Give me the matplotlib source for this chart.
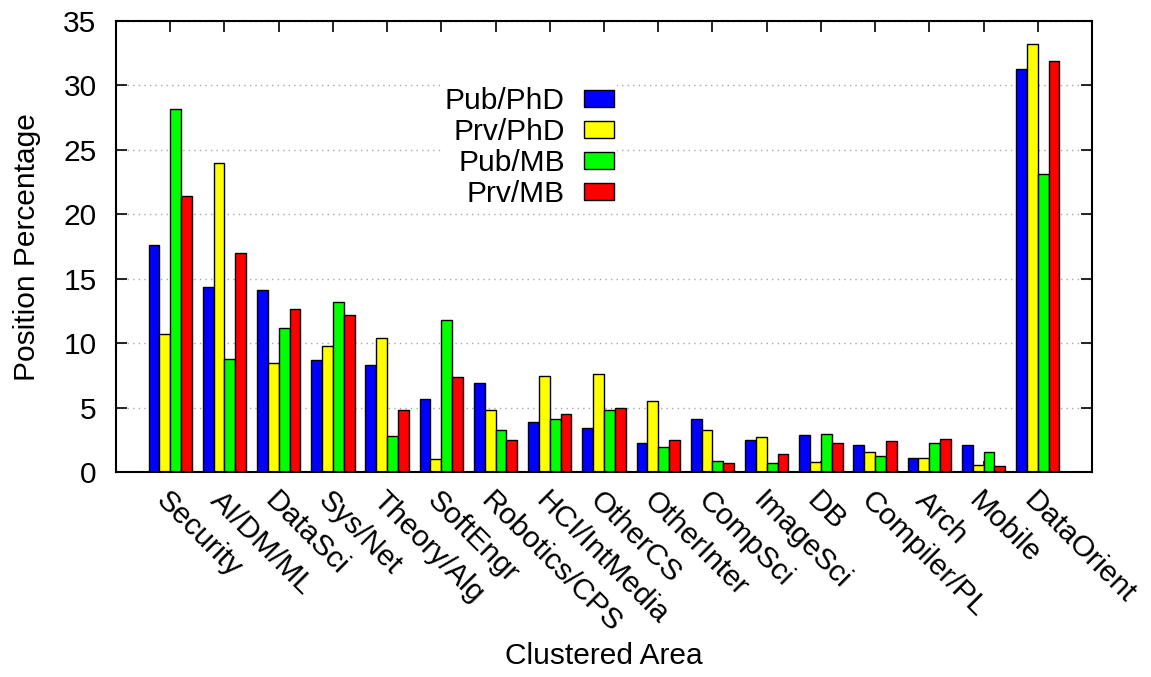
import matplotlib
matplotlib.use('Agg')
import matplotlib.pyplot as plt
import numpy as np

# Share of positions per clustered research area
areas = ['Security', 'AI/DM/ML', 'DataSci', 'Sys/Net', 'Theory/Alg', 'SoftEngr',
         'Robotics/CPS', 'HCI/IntMedia', 'OtherCS', 'OtherInter', 'CompSci',
         'ImageSci', 'DB', 'Compiler/PL', 'Arch', 'Mobile', 'DataOrient']
pub_phd = [17.6, 14.4, 14.1, 8.7, 8.3, 5.7, 6.9, 3.9, 3.4, 2.3, 4.1, 2.5, 2.9, 2.1, 1.1, 2.1, 31.3]
prv_phd = [10.7, 24.0, 8.5, 9.8, 10.4, 1.0, 4.8, 7.5, 7.6, 5.5, 3.3, 2.7, 0.8, 1.6, 1.1, 0.6, 33.2]
pub_mb = [28.2, 8.8, 11.2, 13.2, 2.8, 11.8, 3.3, 4.1, 4.8, 2.0, 0.9, 0.7, 3.0, 1.3, 2.3, 1.6, 23.1]
prv_mb = [21.4, 17.0, 12.7, 12.2, 4.8, 7.4, 2.5, 4.5, 5.0, 2.5, 0.7, 1.4, 2.3, 2.4, 2.6, 0.5, 31.9]
series_names = ['Pub/PhD', 'Prv/PhD', 'Pub/MB', 'Prv/MB']
yticks = [0, 5, 10, 15, 20, 25, 30, 35]

plt.rcParams['font.family'] = ['Liberation Sans', 'DejaVu Sans']
plt.rcParams['font.size'] = 21.5

W, H = 1151, 677
fig = plt.figure(figsize=(W / 100, H / 100), dpi=100)
ax = fig.add_axes([116 / W, 1 - 472.3 / H, (1092 - 116) / W, (472.3 - 21) / H])

x = np.arange(len(areas))
width = 0.2
colors = ['#0000ff', '#ffff00', '#00ff00', '#ff0000']
all_series = [pub_phd, prv_phd, pub_mb, prv_mb]
for i, (vals, col, name) in enumerate(zip(all_series, colors, series_names)):
    ax.bar(x + (i - 1.5) * width, vals, width, color=col, edgecolor='black',
           linewidth=1.0, label=name, zorder=2)

ax.set_xlim(-1, 17)
ax.set_ylim(0, 35)
ax.set_yticks(yticks)
ax.set_axisbelow(True)
ax.yaxis.grid(True, color='#a8a8a8', linestyle=(0, (1, 3)), linewidth=1.0)

ax.set_xticks(x)
ax.set_xticklabels(areas, rotation=-45, ha='left', va='top', rotation_mode='anchor')
ax.tick_params(axis='both', direction='in', length=8, width=1.2,
               top=True, right=True)
ax.tick_params(axis='y', pad=14)
ax.tick_params(axis='x', pad=10)
for sp in ax.spines.values():
    sp.set_linewidth(1.5)

ax.set_ylabel('Position Percentage', labelpad=16)
ax.set_xlabel('Clustered Area', labelpad=3)

leg = ax.legend(loc='upper right', bbox_to_anchor=((617 - 116) / 976, (472.3 - 84) / 451.3),
                markerfirst=False, frameon=True, fancybox=False, edgecolor='none',
                facecolor='white', framealpha=1.0, borderpad=0.1, borderaxespad=0.0,
                handlelength=1.0, handleheight=0.47, handletextpad=0.65,
                labelspacing=0.1)
for h in leg.legend_handles:
    h.set_linewidth(1.0)

fig.savefig('out.png', dpi=100)
